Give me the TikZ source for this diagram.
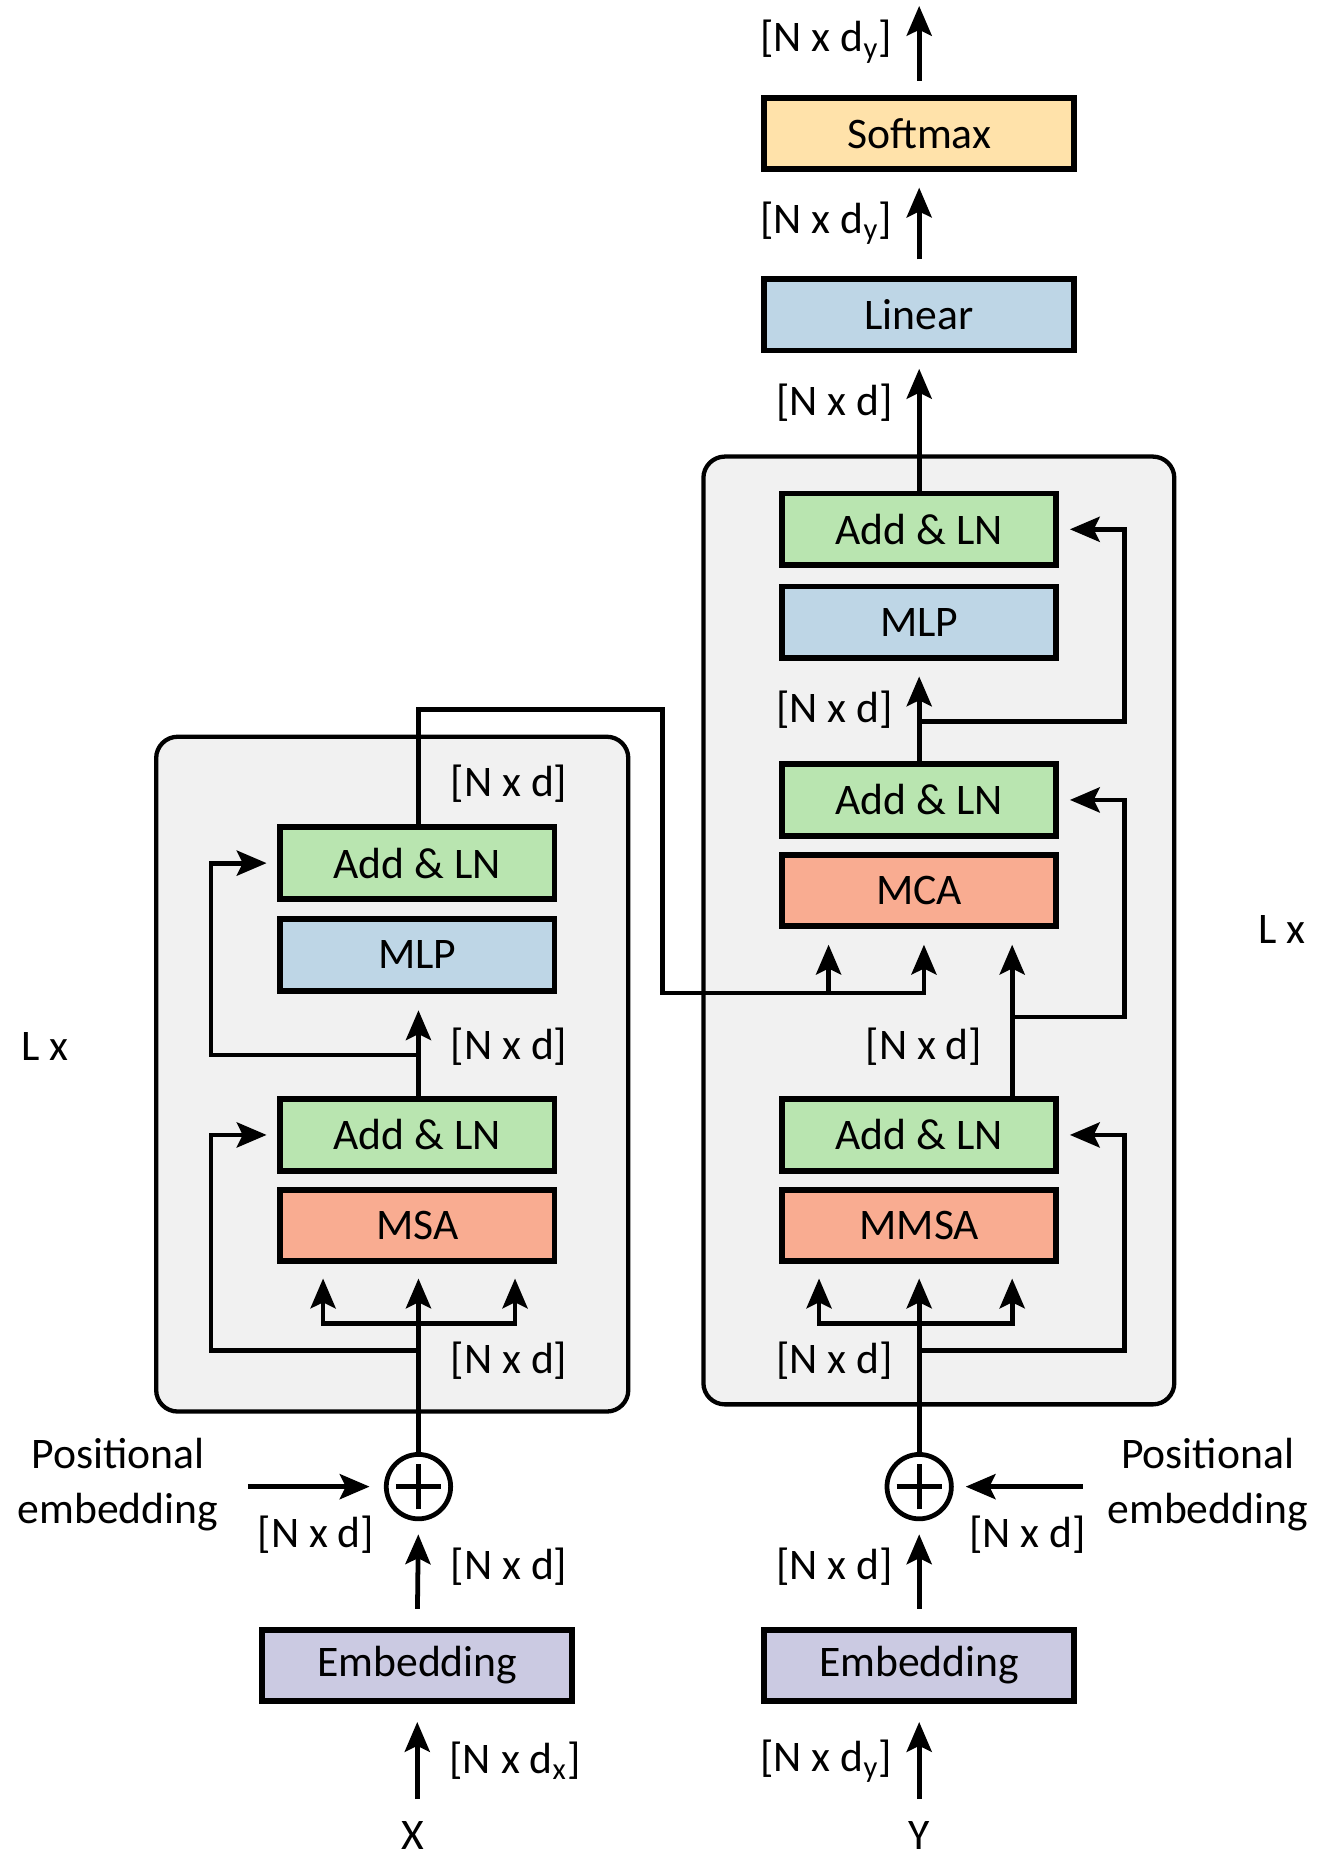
\documentclass[tikz,border=0pt]{standalone}
\usepackage{fontspec}
\setmainfont{Carlito}
\usetikzlibrary{arrows.meta,calc}
\definecolor{addgreen}{RGB}{185,229,176}
\definecolor{mlpblue}{RGB}{190,214,230}
\definecolor{attred}{RGB}{249,172,145}
\definecolor{softyellow}{RGB}{255,226,170}
\definecolor{embpurple}{RGB}{203,202,226}
\definecolor{contgray}{RGB}{241,241,241}
\begin{document}
\begin{tikzpicture}[x=0.5pt,y=0.5pt,
  every node/.style={font=\fontsize{18.3}{23}\selectfont},
  blk/.style={draw,line width=2.4pt,minimum width=115pt,minimum height=30pt,inner sep=0pt},
  wide/.style={blk,minimum width=130pt},
  cont/.style={draw,line width=1.8pt,fill=contgray,rounded corners=9pt},
  arr/.style={line width=2pt,-{Stealth[length=12.5pt,width=10.5pt,inset=2.5pt]}},
  wire/.style={line width=2pt},
  sum/.style={draw,circle,line width=2pt,minimum size=27pt,inner sep=0pt}]
\useasboundingbox (0,0) rectangle (1110,1561);

\draw[cont] (131,377) rectangle (527,943);
\draw[cont] (590,383) rectangle (985,1178);

% encoder
\node[blk,fill=addgreen] (eAdd2) at (350,837) {Add \& LN};
\node[blk,fill=mlpblue] (eMLP) at (350,760) {MLP};
\node[blk,fill=addgreen] (eAdd1) at (350,609) {Add \& LN};
\node[blk,fill=attred] (eMSA) at (350,533) {MSA};
\node[sum] (esum) at (351,314) {};
\node[wide,fill=embpurple] (eEmb) at (350,164) {Embedding};
\node (xin) at (346,21) {X};

% decoder
\node[wide,fill=softyellow] (soft) at (771,1449) {Softmax};
\node[wide,fill=mlpblue] (lin) at (771,1297) {Linear};
\node[blk,fill=addgreen] (dAdd3) at (771,1117) {Add \& LN};
\node[blk,fill=mlpblue] (dMLP) at (771,1039) {MLP};
\node[blk,fill=addgreen] (dAdd2) at (771,890) {Add \& LN};
\node[blk,fill=attred] (dMCA) at (771,814) {MCA};
\node[blk,fill=addgreen] (dAdd1) at (771,609) {Add \& LN};
\node[blk,fill=attred] (dMMSA) at (771,533) {MMSA};
\node[sum] (dsum) at (771,314) {};
\node[wide,fill=embpurple] (dEmb) at (771,164) {Embedding};
\node (yin) at (771,21) {Y};

\foreach \s in {esum,dsum} {
  \draw[wire] ($(\s.center)+(-19,0)$) -- ($(\s.center)+(19,0)$);
  \draw[wire] ($(\s.center)+(0,-19)$) -- ($(\s.center)+(0,19)$);
}

\coordinate (yout) at (771,1556);
\coordinate (eL) at (177,0);
\coordinate (dR) at (943,0);
\coordinate (eB1) at (351,428);
\coordinate (eB2) at (351,676);
\coordinate (eK) at (271,451);
\coordinate (eV) at (432,451);
\coordinate (epos) at (208,314);
\coordinate (dB1) at (771,428);
\coordinate (dB2) at (849,708);
\coordinate (dB3) at (771,956);
\coordinate (dK) at (687,451);
\coordinate (dV) at (849,451);
\coordinate (dpos) at (908,314);
\coordinate (cA) at (556,966);
\coordinate (cB) at (556,728);
\coordinate (m1) at (695,728);
\coordinate (m2) at (775,728);

% encoder wires
\draw[arr,shorten <=6pt,shorten >=7.5pt] (eEmb.south |- xin.north) -- (eEmb.south);
\draw[arr,shorten <=7.5pt,shorten >=5.5pt] (eEmb.north) -- (esum.south);
\draw[arr,shorten >=6pt] (epos) -- (esum.west);
\draw[arr,shorten >=6pt] (esum.north) -- (eMSA.south -| esum.north);
\draw[arr,shorten >=6pt] (eV) -- (eK) -- (eMSA.south -| eK);
\draw[arr,shorten >=6pt] (eK) -- (eV) -- (eMSA.south -| eV);
\draw[arr,shorten >=4.5pt] (eB1) -- (eB1 -| eL) |- (eAdd1.west);
\draw[arr,shorten >=7pt] (eAdd1.north -| eB2) -- (eMLP.south -| eB2);
\draw[arr,shorten >=4.5pt] (eB2) -- (eB2 -| eL) |- (eAdd2.west);
\draw[arr,shorten >=6.5pt] (eAdd2.north -| eB2) |- (cA) -- (cB) -- (m2) -- (dMCA.south -| m2);
\draw[arr,shorten >=6.5pt] (cB) -- (m1) -- (dMCA.south -| m1);

% decoder wires
\draw[arr,shorten <=6pt,shorten >=7.5pt] (yin.north) -- (dEmb.south);
\draw[arr,shorten <=7.5pt,shorten >=5.5pt] (dEmb.north) -- (dsum.south);
\draw[arr,shorten >=5pt] (dpos) -- (dsum.east);
\draw[arr,shorten >=6pt] (dsum.north) -- (dMMSA.south);
\draw[arr,shorten >=6pt] (dV) -- (dK) -- (dMMSA.south -| dK);
\draw[arr,shorten >=6pt] (dK) -- (dV) -- (dMMSA.south -| dV);
\draw[arr,shorten >=4.5pt] (dB1) -- (dB1 -| dR) |- (dAdd1.east);
\draw[arr,shorten >=6.5pt] (dAdd1.north -| dV) -- (dMCA.south -| dV);
\draw[arr,shorten >=4.5pt] (dB2) -- (dB2 -| dR) |- (dAdd2.east);
\draw[arr,shorten >=6.5pt] (dAdd2.north) -- (dMLP.south);
\draw[arr,shorten >=4.5pt] (dB3) -- (dB3 -| dR) |- (dAdd3.east);
\draw[arr,shorten >=6.5pt] (dAdd3.north) -- (lin.south);
\draw[arr,shorten <=7pt,shorten >=6.5pt] (lin.north) -- (soft.south);
\draw[arr,shorten <=6pt] (soft.north) -- (yout);

% labels
\node (lx1) at (38,683) {L x};
\node (lx2) at (1075,781) {L x};
\node[align=center] (pe1) at (99,316) {Positional\\embedding};
\node[align=center] (pe2) at (1013,316) {Positional\\embedding};
\node (eS1) at (432,84) {[N x d\textsubscript{x}]};
\node (eS2) at (427,247) {[N x d]};
\node (eS3) at (265,274) {[N x d]};
\node (eS4) at (427,420) {[N x d]};
\node (eS5) at (427,683) {[N x d]};
\node (eS6) at (427,904) {[N x d]};
\node (dS1) at (693,84) {[N x d\textsubscript{y}]};
\node (dS2) at (700,247) {[N x d]};
\node (dS3) at (862,274) {[N x d]};
\node (dS4) at (700,420) {[N x d]};
\node (dS5) at (775,683) {[N x d]};
\node (dS6) at (700,966) {[N x d]};
\node (dS7) at (700,1223) {[N x d]};
\node (dS8) at (693,1374) {[N x d\textsubscript{y}]};
\node (dS9) at (693,1526) {[N x d\textsubscript{y}]};
\end{tikzpicture}
\end{document}
